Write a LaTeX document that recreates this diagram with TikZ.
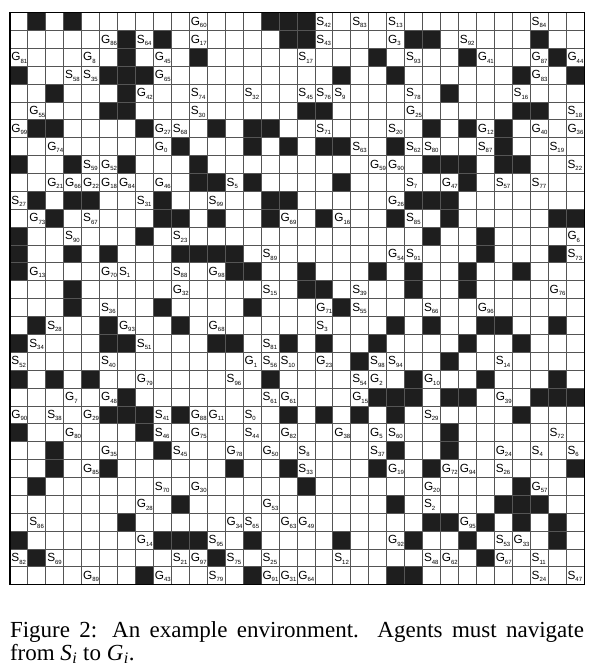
\documentclass[tikz,border=0pt]{standalone}
\usepackage{fontspec}
\setmainfont{Liberation Serif}
\newfontfamily\labfont{Liberation Sans}
\definecolor{cellblack}{HTML}{1E1E1E}
\definecolor{gridline}{HTML}{555555}
\newcommand{\cellab}[2]{{\fontsize{11.8}{11.8}\selectfont #1}\raisebox{-2.4pt}{\fontsize{6}{6}\selectfont #2}}
\begin{document}
\begin{tikzpicture}[x=1pt,y=-1pt,
  cellfill/.style={fill=cellblack},
  gridln/.style={draw=gridline,line width=0.9pt},
  lab/.style={anchor=base west,inner sep=0pt,outer sep=0pt,font=\labfont},
  captxt/.style={anchor=base west,inner sep=0pt,outer sep=0pt,font=\fontsize{23}{27}\selectfont}]
\useasboundingbox (0,0) rectangle (594,669);
\fill[white] (0,0) rectangle (594,669);
% black cells
\foreach \xc/\yr in {
1/0,3/0,14/0,15/0,16/0,
6/1,8/1,15/1,16/1,22/1,23/1,29/1,
6/2,10/2,20/2,25/2,30/2,
0/3,5/3,6/3,7/3,18/3,21/3,28/3,31/3,
2/4,6/4,24/4,
5/5,6/5,16/5,17/5,28/5,29/5,
1/6,2/6,7/6,11/6,13/6,14/6,23/6,25/6,27/6,
9/7,13/7,15/7,17/7,18/7,21/7,27/7,
0/8,3/8,6/8,10/8,23/8,24/8,25/8,27/8,28/8,
10/9,11/9,13/9,18/9,25/9,
1/10,3/10,4/10,8/10,14/10,15/10,22/10,23/10,24/10,
2/11,8/11,9/11,11/11,14/11,17/11,21/11,24/11,30/11,31/11,
0/12,7/12,23/12,26/12,
0/13,3/13,5/13,9/13,10/13,11/13,12/13,26/13,30/13,
0/14,12/14,13/14,16/14,20/14,22/14,25/14,28/14,
3/15,16/15,17/15,22/15,25/15,
3/16,8/16,13/16,18/16,
1/17,5/17,9/17,21/17,23/17,26/17,27/17,30/17,
0/18,5/18,6/18,11/18,12/18,15/18,17/18,20/18,25/18,28/18,
19/19,24/19,
0/20,2/20,4/20,14/20,22/20,26/20,30/20,
6/21,20/21,21/21,22/21,24/21,25/21,29/21,30/21,31/21,
5/22,6/22,7/22,9/22,15/22,17/22,19/22,21/22,28/22,
0/23,7/23,24/23,
2/24,8/24,21/24,24/24,
2/25,5/25,12/25,15/25,20/25,23/25,31/25,
1/26,16/26,28/26,
9/27,21/27,27/27,28/27,29/27,
6/28,23/28,24/28,26/28,28/28,30/28,
0/29,8/29,9/29,10/29,13/29,18/29,22/29,25/29,30/29,
1/30,11/30,26/30,
7/31,13/31,21/31,22/31}
  \fill[cellfill] ({10+\xc*17.94},{12.6+\yr*17.88}) rectangle ++(17.94,17.88);
% grid
\foreach \i in {0,...,32} {
  \draw[gridln] ({10+\i*17.94},12.6) -- ({10+\i*17.94},{12.6+32*17.88});
  \draw[gridln] (10,{12.6+\i*17.88}) -- ({10+32*17.94},{12.6+\i*17.88});
}
\draw[line width=1.1pt] (10,12.6) rectangle ({10+32*17.94},{12.6+32*17.88});
% labels
\foreach \xc/\yr/\Lt/\nm in {
10/0/G/60, 17/0/S/42, 19/0/S/83, 21/0/S/13, 29/0/S/84,
5/1/G/86, 7/1/S/64, 10/1/G/17, 17/1/S/43, 21/1/G/3, 25/1/S/92,
0/2/G/81, 4/2/G/8, 8/2/G/45, 16/2/S/17, 22/2/S/93, 26/2/G/41, 29/2/G/87, 31/2/G/44,
3/3/S/58, 4/3/S/35, 8/3/G/65, 29/3/G/83,
7/4/G/42, 10/4/S/74, 13/4/S/32, 16/4/S/45, 17/4/S/76, 18/4/S/9, 22/4/S/78, 28/4/S/16,
1/5/G/55, 10/5/S/30, 22/5/G/25, 31/5/S/18,
0/6/G/99, 8/6/G/27, 9/6/S/68, 17/6/S/71, 21/6/S/20, 26/6/G/12, 29/6/G/40, 31/6/G/36,
2/7/G/74, 8/7/G/0, 19/7/S/63, 22/7/S/62, 23/7/S/80, 26/7/S/87, 30/7/S/19,
4/8/S/59, 5/8/G/52, 20/8/G/59, 21/8/G/90, 31/8/S/22,
2/9/G/21, 3/9/G/66, 4/9/G/22, 5/9/G/18, 6/9/G/84, 8/9/G/46, 12/9/S/5, 22/9/S/7, 24/9/G/47, 27/9/S/57, 29/9/S/77,
0/10/S/27, 7/10/S/31, 11/10/S/99, 21/10/G/26,
1/11/G/73, 4/11/S/67, 15/11/G/69, 18/11/G/16, 22/11/S/85,
3/12/S/90, 9/12/S/23, 31/12/G/6,
14/13/S/89, 21/13/G/54, 22/13/S/91, 31/13/S/73,
1/14/G/13, 5/14/G/70, 6/14/S/1, 9/14/S/88, 11/14/G/98,
9/15/G/32, 14/15/S/15, 19/15/S/39, 30/15/G/76,
5/16/S/36, 17/16/G/71, 19/16/S/55, 23/16/S/66, 26/16/G/96,
2/17/S/28, 6/17/G/93, 11/17/G/68, 17/17/S/3,
1/18/S/34, 7/18/S/51, 14/18/S/81,
0/19/S/52, 5/19/S/40, 13/19/G/1, 14/19/S/56, 15/19/S/10, 17/19/G/23, 20/19/S/98, 21/19/S/94, 27/19/S/14,
7/20/G/79, 12/20/S/96, 19/20/S/54, 20/20/G/2, 23/20/G/10,
3/21/G/7, 5/21/G/48, 14/21/S/61, 15/21/G/61, 19/21/G/15, 27/21/G/39,
0/22/G/90, 2/22/S/38, 4/22/G/29, 8/22/S/41, 10/22/G/88, 11/22/G/11, 13/22/S/0, 23/22/S/29,
3/23/G/80, 8/23/S/46, 10/23/G/75, 13/23/S/44, 15/23/G/82, 18/23/G/38, 20/23/G/5, 21/23/S/60, 30/23/S/72,
5/24/G/35, 9/24/S/45, 12/24/G/78, 14/24/G/50, 16/24/S/8, 20/24/S/37, 27/24/G/24, 29/24/S/4, 31/24/S/6,
4/25/G/85, 16/25/S/33, 21/25/G/19, 24/25/G/72, 25/25/G/94, 27/25/S/26,
8/26/S/70, 10/26/G/30, 23/26/G/20, 29/26/G/57,
7/27/G/28, 14/27/G/53, 23/27/S/2,
1/28/S/86, 12/28/G/34, 13/28/S/65, 15/28/G/63, 16/28/G/49, 25/28/G/95,
7/29/G/14, 11/29/S/95, 21/29/G/92, 27/29/S/53, 28/29/G/33,
0/30/S/82, 2/30/S/69, 9/30/S/21, 10/30/G/97, 12/30/S/75, 14/30/S/25, 18/30/S/12, 23/30/S/48, 24/30/G/62, 27/30/G/67, 29/30/S/11,
4/31/G/89, 8/31/G/43, 11/31/S/79, 14/31/G/91, 15/31/G/31, 16/31/G/64, 29/31/S/24, 31/31/S/47}
  \node[lab] (L\xc-\yr) at ({10+\xc*17.94+1.4},{12.6+\yr*17.88+12.6}) {\cellab{\Lt}{\nm}};
% caption
\node[captxt] (cap1) at (10,637) {\makebox[574pt][s]{Figure 2: An example environment. Agents must navigate}};
\node[captxt] (cap2) at (10,660) {from \textit{S}\kern0.5pt\textsubscript{\textit{i}} to \textit{G}\kern0.5pt\textsubscript{\textit{i}}.};
\end{tikzpicture}
\end{document}
